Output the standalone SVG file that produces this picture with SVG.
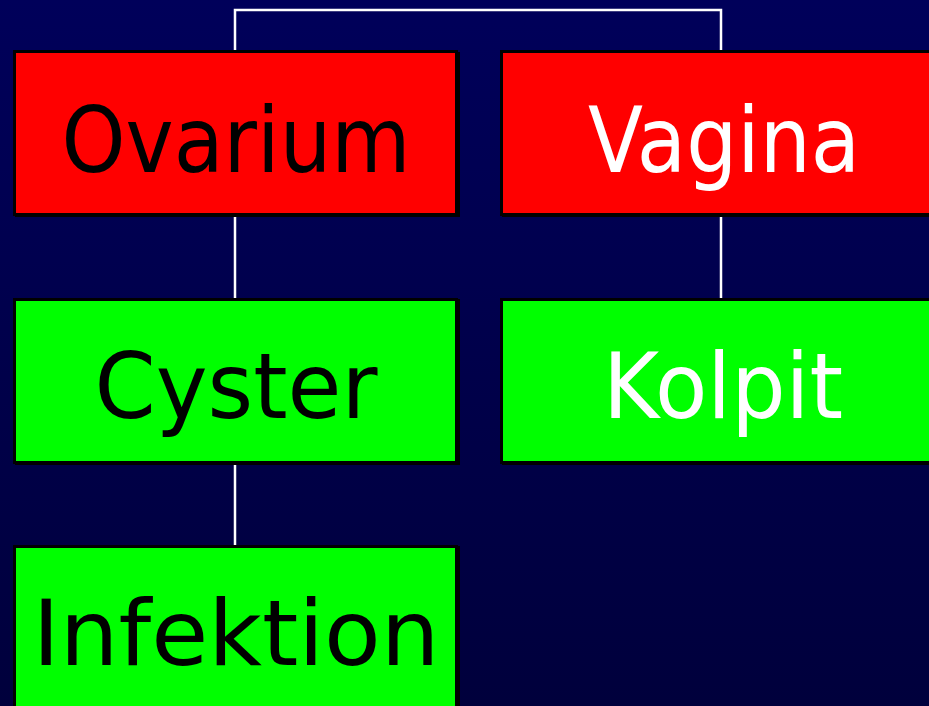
<svg xmlns="http://www.w3.org/2000/svg" width="929" height="706" viewBox="0 0 929 706">
<defs>
<linearGradient id="bg" x1="0" y1="0" x2="0" y2="1">
<stop offset="0" stop-color="#00005a"/>
<stop offset="1" stop-color="#00003c"/>
</linearGradient>
</defs>
<style>
.shadow{fill:#000}
.box{stroke:#000;stroke-width:3}
.red{fill:#ff0000}
.green{fill:#00ff00}
.conn{stroke:#ffffff;stroke-width:2.5;fill:none}
text{font-family:"DejaVu Sans","Liberation Sans",sans-serif;font-size:90px;text-anchor:middle}
.dark{fill:#000}
.light{fill:#fff}
</style>
<rect width="929" height="706" fill="url(#bg)"/>
<g id="connectors">
<polyline class="conn" points="235,51 235,10 721,10 721,51"/>
<line class="conn" x1="235" y1="217" x2="235" y2="298"/>
<line class="conn" x1="721" y1="217" x2="721" y2="298"/>
<line class="conn" x1="235" y1="465" x2="235" y2="545"/>
</g>
<g id="ovarium">
<rect class="shadow" x="15" y="52" width="445" height="165"/>
<rect class="box red" x="14.5" y="51.5" width="442" height="163"/>
<text class="dark" x="236" y="172" textLength="349" lengthAdjust="spacingAndGlyphs">Ovarium</text>
</g>
<g id="vagina">
<rect class="shadow" x="502" y="52" width="445" height="165"/>
<rect class="box red" x="501.5" y="51.5" width="440" height="163"/>
<text class="light" x="724" y="172" textLength="272" lengthAdjust="spacingAndGlyphs">Vagina</text>
</g>
<g id="cyster">
<rect class="shadow" x="15" y="299" width="445" height="166"/>
<rect class="box green" x="14.5" y="299.5" width="442" height="163"/>
<text class="dark" x="236" y="418" textLength="283" lengthAdjust="spacingAndGlyphs">Cyster</text>
</g>
<g id="kolpit">
<rect class="shadow" x="502" y="299" width="445" height="166"/>
<rect class="box green" x="501.5" y="299.5" width="440" height="163"/>
<text class="light" x="723" y="418" textLength="240" lengthAdjust="spacingAndGlyphs">Kolpit</text>
</g>
<g id="infektion">
<rect class="shadow" x="15" y="546" width="445" height="180"/>
<rect class="box green" x="14.5" y="546.5" width="442" height="180"/>
<text class="dark" x="236" y="665" textLength="407" lengthAdjust="spacingAndGlyphs">Infektion</text>
</g>
</svg>
